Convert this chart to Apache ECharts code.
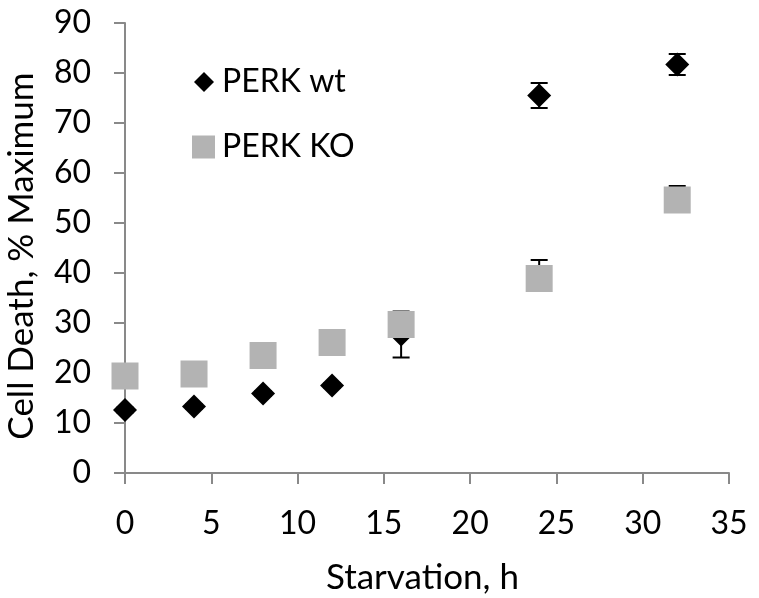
<!DOCTYPE html>
<html>
<head>
<meta charset="utf-8">
<script src="https://cdn.jsdelivr.net/npm/echarts@6/dist/echarts.min.js"></script>
<style>html,body{margin:0;padding:0;background:#fff}#c{width:759px;height:598px}</style>
</head>
<body>
<div id="c"></div>
<script>
const hours = [0, 4, 8, 12, 16, 24, 32];
const wt = [12.6, 13.3, 15.9, 17.5, 27.7, 75.5, 81.7];
const wtErr = [0.5, 0.5, 0.5, 0.5, 4.6, 2.5, 2.1];
const ko = [19.4, 19.8, 23.5, 26.1, 29.7, 38.9, 54.6];
const koErrPlus = [0.5, 0.5, 0.5, 0.5, 0.6, 3.7, 2.8];
const xTicks = { min: 0, max: 35, interval: 5 };
const yTicks = { min: 0, max: 90, interval: 10 };

const FONT = 'Lato';
const FS = 32;
const TFS = 35;
const axisGrey = '#898989';

function errSeries(name, vals, lows, highs) {
  return {
    type: 'custom', name: name, z: 1,
    data: hours.map((h, i) => [h, vals[i], lows[i], highs[i]]),
    renderItem: function (params, api) {
      const x = api.value(0);
      const pHi = api.coord([x, api.value(3)]);
      const pLo = api.coord([x, api.value(2)]);
      const hw = 8.5;
      const st = { stroke: '#000', lineWidth: 2 };
      return { type: 'group', children: [
        { type: 'line', shape: { x1: pLo[0], y1: pLo[1], x2: pHi[0], y2: pHi[1] }, style: st },
        { type: 'line', shape: { x1: pHi[0] - hw, y1: pHi[1], x2: pHi[0] + hw, y2: pHi[1] }, style: st },
        { type: 'line', shape: { x1: pLo[0] - hw, y1: pLo[1], x2: pLo[0] + hw, y2: pLo[1] }, style: st }
      ] };
    }
  };
}

const chart = echarts.init(document.getElementById('c'), null, { renderer: 'canvas' });
chart.setOption({
  animation: false,
  backgroundColor: '#fff',
  textStyle: { fontFamily: FONT },
  grid: { left: 125, right: 30, top: 23, bottom: 125, containLabel: false, outerBoundsMode: 'none' },
  legend: [
    { data: [{ name: 'PERK wt', icon: 'diamond' }], left: 189, top: 61, itemWidth: 20, itemHeight: 20, itemGap: 0,
      textStyle: { fontFamily: FONT, fontSize: FS, color: '#000', padding: [0, 0, 0, 3] } },
    { data: [{ name: 'PERK KO', icon: 'rect' }], left: 187, top: 126, itemWidth: 23, itemHeight: 23, itemGap: 0,
      textStyle: { fontFamily: FONT, fontSize: FS, color: '#000', padding: [0, 0, 0, 2] } }
  ],
  xAxis: {
    type: 'value', min: xTicks.min, max: xTicks.max, interval: xTicks.interval,
    name: 'Starvation, h', nameLocation: 'middle', nameGap: 87,
    nameTextStyle: { fontFamily: FONT, fontSize: TFS, color: '#000', padding: [0, 9, 0, 0] },
    axisLine: { show: true, lineStyle: { color: axisGrey, width: 2 } },
    axisTick: { show: true, inside: false, length: 11, lineStyle: { color: axisGrey, width: 2 } },
    axisLabel: { fontFamily: FONT, fontSize: FS, color: '#000', margin: 35 },
    splitLine: { show: false }
  },
  yAxis: {
    type: 'value', min: yTicks.min, max: yTicks.max, interval: yTicks.interval,
    name: 'Cell Death, % Maximum', nameLocation: 'middle', nameGap: 86,
    nameTextStyle: { fontFamily: FONT, fontSize: TFS, color: '#000', padding: [0, 16, 0, 0] },
    axisLine: { show: true, lineStyle: { color: axisGrey, width: 2 } },
    axisTick: { show: true, inside: false, length: 11, lineStyle: { color: axisGrey, width: 2 } },
    axisLabel: { fontFamily: FONT, fontSize: FS, color: '#000', margin: 34 },
    splitLine: { show: false }
  },
  series: [
    errSeries('wtErr', wt, wt.map((v, i) => v - wtErr[i]), wt.map((v, i) => v + wtErr[i])),
    errSeries('koErr', ko, ko, ko.map((v, i) => v + koErrPlus[i])),
    { type: 'scatter', name: 'PERK wt', z: 2, symbol: 'diamond', symbolSize: 24,
      itemStyle: { color: '#000', opacity: 1 }, data: hours.map((h, i) => [h, wt[i]]) },
    { type: 'scatter', name: 'PERK KO', z: 2, symbol: 'rect', symbolSize: 27,
      itemStyle: { color: '#b3b3b3', opacity: 1 }, data: hours.map((h, i) => [h, ko[i]]) }
  ]
});
</script>
</body>
</html>
